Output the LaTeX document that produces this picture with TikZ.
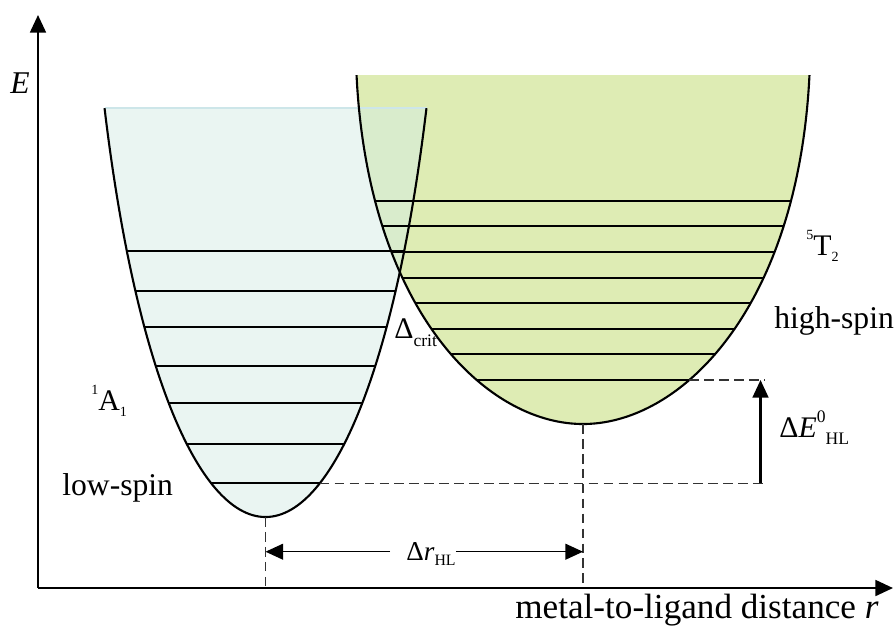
\documentclass[tikz,border=0pt]{standalone}
\usepackage{fontspec}
\setmainfont{Liberation Serif}
\usetikzlibrary{arrows.meta}
\definecolor{lsfill}{RGB}{214,236,229}
\definecolor{lsedge}{RGB}{205,230,233}
\definecolor{hsfill}{RGB}{222,236,180}
\newcommand\smallup[2]{\raisebox{#1}{\fontsize{8}{9}\selectfont #2}}

\begin{document}
\begin{tikzpicture}[x=0.2mm, y=-0.2mm,
        declare function={hsw(\t)=15.835*\t+0.1539*\t*abs(\t)-0.01887*\t*\t*\t;
                          lsw(\t)=9.432*\t+0.00899*\t*abs(\t)-0.00404*\t*\t*\t;},
        curve/.style={line width=1.2pt},
        level/.style={line width=1.1pt},
        guide/.style={line width=0.6pt, dash pattern=on 5.5pt off 3pt, black!80},
        axis/.style={line width=1.3pt, -{Triangle[length=10pt,width=9pt]}},
        tip/.style={-{Triangle[length=10pt,width=9pt]}},
        lbl/.style={font=\fontsize{18}{20}\selectfont, inner sep=0pt, anchor=base west}]
    \useasboundingbox (0,0) rectangle (895,625);

    % key points
    \coordinate (O) at (38,588);
    \coordinate (ytop) at (38,15);
    \coordinate (xend) at (893,588);
    \coordinate (lsv) at (265.5,517);
    \coordinate (hsv) at (583,424);
    \coordinate (lslow) at ({265.5+lsw(sqrt(517-483.3))},483.3);
    \coordinate (hslow) at ({583+hsw(sqrt(424-380))},380);
    \coordinate (eb) at (765,483.3);
    \coordinate (et) at (765,380);
    \coordinate (lsa) at (265.5,588);
    \coordinate (hsa) at (583,588);
    \coordinate (dra) at (265.5,551.7);
    \coordinate (drb) at (583,551.7);

    % the two wells
    \path[save path=\hspath] plot[domain=-18.68:18.68, samples=121, smooth]
        ({583+hsw(\x)}, {424-\x*\x});
    \path[save path=\lspath] plot[domain=-20.22:20.22, samples=121, smooth]
        ({265.5+lsw(\x)}, {517-\x*\x});
    \fill[hsfill, use path=\hspath];
    \fill[lsfill, fill opacity=0.5, use path=\lspath];
    \draw[lsedge, line width=0.8pt] (104.5,108) -- (426.5,108);
    \draw[curve, use path=\hspath];
    \draw[curve, use path=\lspath];

    % vibrational levels
    \foreach \y in {200.8, 226.4, 252, 277.6, 303.2, 328.8, 354.4, 380}
        \draw[level] ({583-hsw(sqrt(424-\y))},\y) -- ({583+hsw(sqrt(424-\y))},\y);
    \foreach \y in {250.7, 291, 326.7, 366, 403.3, 444.3, 483.3}
        \draw[level] ({265.5-lsw(sqrt(517-\y))},\y) -- ({265.5+lsw(sqrt(517-\y))},\y);

    % guides
    \draw[guide] (hslow) -- (et);
    \draw[guide] (lslow) -- (eb);
    \draw[guide] (lsv) -- (lsa);
    \draw[guide] (hsv) -- (hsa);

    % axes
    \draw[axis] (O) -- (ytop);
    \draw[axis] (O) -- (xend);

    % energy gap and distance
    \draw[line width=1.2pt, tip] (eb -| 760.5,0) -- (et -| 760.5,0);
    \node[lbl] (delr) at (406,560) {\fontsize{15.5}{18}\selectfont Δ\textit{r}\raisebox{-3pt}{\fontsize{9}{10}\selectfont HL}};
    \draw[line width=0.8pt, tip] ([xshift=-3.2mm]delr.west |- dra) -- (dra);
    \draw[line width=0.8pt, tip] (delr.east |- drb) -- (drb);

    % labels
    \node[lbl] (elbl) at (10,93) {\textit{E}};
    \node[lbl] (hsterm) at (806,255) {\smallup{9pt}{5}\fontsize{17}{18}\selectfont T\smallup{-3.8pt}{2}};
    \node[lbl] (hsname) at (774,328) {high-spin};
    \node[lbl] (lsterm) at (91,410) {\smallup{9pt}{1}\fontsize{17}{18}\selectfont A\smallup{-3.8pt}{1}};
    \node[lbl] (lsname) at (62,495) {low-spin};
    \node[lbl] (crit) at (394,338) {\fontsize{17}{18}\selectfont Δ\raisebox{-5pt}{\fontsize{10}{11}\selectfont crit}};
    \node[lbl] (delE) at (779,437) {\fontsize{17}{18}\selectfont Δ\textit{E}\raisebox{8pt}{\fontsize{10}{11}\selectfont 0}\raisebox{-4pt}{\fontsize{10}{11}\selectfont HL}};
    \node[lbl] (xlbl) at (515,618) {\fontsize{20}{22}\selectfont metal-to-ligand distance \textit{r}};
\end{tikzpicture}
\end{document}
